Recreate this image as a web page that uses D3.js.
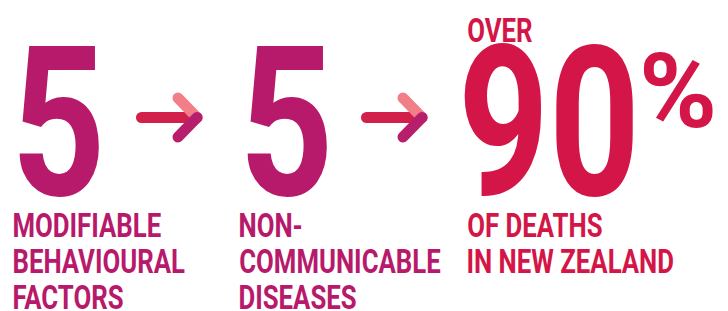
<!DOCTYPE html>
<html>
<head>
<meta charset="utf-8">
<script src="https://cdn.jsdelivr.net/npm/d3@7"></script>
<style>
  html, body { margin: 0; padding: 0; background: #fff; }
  svg { display: block; }
  text { font-family: Roboto, "Noto Sans", sans-serif; font-weight: 700; }
</style>
</head>
<body>
<svg id="chart" width="728" height="311"></svg>
<script>
// figures and labels of the three steps
const figures = ["5", "5", "90"];
const prefixes = ["", "", "OVER"];
const suffixes = ["", "", "%"];
const labels = [
  ["MODIFIABLE", "BEHAVIOURAL", "FACTORS"],
  ["NON-", "COMMUNICABLE", "DISEASES"],
  ["OF DEATHS", "IN NEW ZEALAND"]
];

const colors = {
  magenta: "#b7196b",
  red: "#d31547",
  arrowRed: "#d3204a",
  arrowPink: "#f27e87",
  arrowMagenta: "#b71f6c"
};
const columnColor = ["magenta", "magenta", "red"];

const svg = d3.select("#chart");

// layout
const colX = [19, 247, 464];
const figW = [80, 80, 169];
const labelX = [14, 240, 468];
const figBase = 195, figCap = 151;
const lineBase = 237, lineStep = 36, lineCap = 24, refLineW = 171;
const pctX = 643, pctBase = 127, pctCap = 75, pctW = 70;
const arrowX = [141.5, 366.5], arrowY = 117.5;

// ink metrics via canvas
const ctx = document.createElement("canvas").getContext("2d");
function ink(text, size) {
  ctx.font = `700 ${size}px Roboto`;
  const m = ctx.measureText(text);
  return {left: m.actualBoundingBoxLeft, right: m.actualBoundingBoxRight, asc: m.actualBoundingBoxAscent};
}
const capRatio = ink("H", 100).asc / 100 || 0.711;

function place(text, x, baseline, capH, sx, color) {
  const size = capH / capRatio;
  const m = ink(text, size);
  svg.append("text")
    .attr("transform", `translate(${x},${baseline}) scale(${sx},1)`)
    .attr("x", m.left)
    .attr("font-size", size)
    .attr("fill", color)
    .text(text);
}
function sxFor(text, capH, w) {
  const m = ink(text, capH / capRatio);
  return w / (m.left + m.right);
}

const lineSx = sxFor("BEHAVIOURAL", lineCap, refLineW);

figures.forEach((f, i) => {
  const c = colors[columnColor[i]];
  place(f, colX[i], figBase, figCap, sxFor(f, figCap, figW[i]), c);
  if (prefixes[i]) place(prefixes[i], labelX[i], 42, lineCap, lineSx, c);
  if (suffixes[i]) place(suffixes[i], pctX, pctBase, pctCap, sxFor(suffixes[i], pctCap, pctW), c);
  labels[i].forEach((l, j) => place(l, labelX[i], lineBase + j * lineStep, lineCap, lineSx, c));
});

// arrows
const line = d3.line();
arrowX.forEach(ax => {
  const g = svg.append("g").attr("transform", `translate(${ax},${arrowY})`)
    .attr("fill", "none").attr("stroke-width", 11).attr("stroke-linecap", "round");
  g.append("path").attr("d", line([[0, 0], [55.5, 0]])).attr("stroke", colors.arrowRed);
  g.append("path").attr("d", line([[36.5, -19.5], [55.5, 0]])).attr("stroke", colors.arrowPink);
  g.append("path").attr("d", line([[55.5, 0], [36.5, 19.5]])).attr("stroke", colors.arrowMagenta);
});
</script>
</body>
</html>
